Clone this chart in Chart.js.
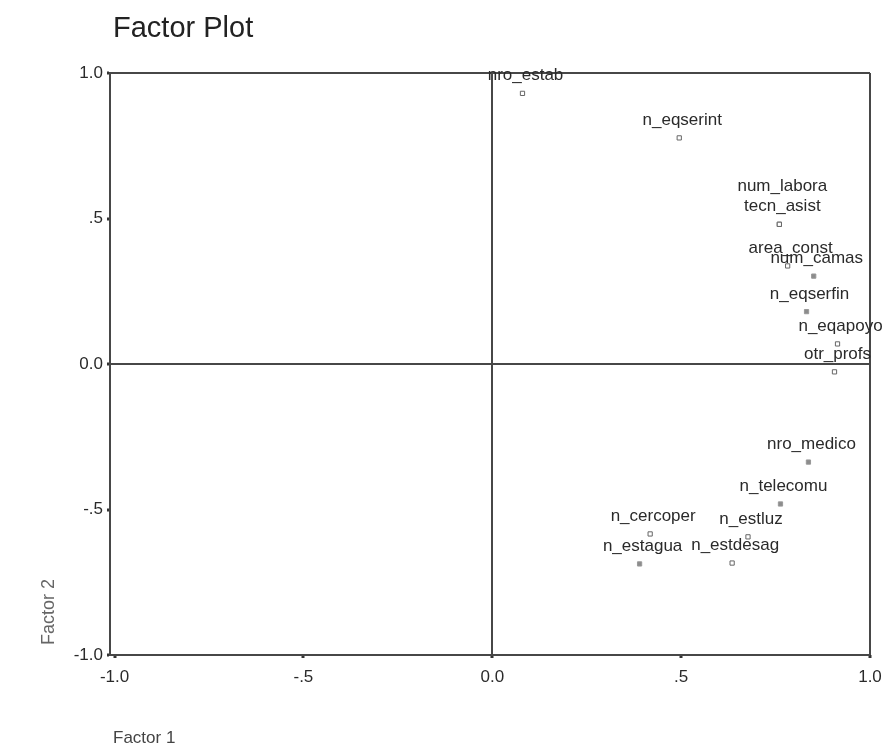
<!DOCTYPE html>
<html>
<head>
<meta charset="utf-8">
<script src="https://cdn.jsdelivr.net/npm/chart.js@4.4.1/dist/chart.umd.min.js"></script>
<style>
  body { margin: 0; background: #fff; }
</style>
</head>
<body>
<canvas id="myChart" width="888" height="747"></canvas>
<script>
const ctx = document.querySelector("#myChart")

// rotated component loadings
const variables = ["nro_estab", "n_eqserint", "tecn_asist", "num_labora", "area_const", "num_camas",
  "n_eqserfin", "n_eqapoyo", "otr_profs", "nro_medico", "n_telecomu", "n_cercoper",
  "n_estluz", "n_estdesag", "n_estagua"];
const factor1 = [0.08, 0.495, 0.76, 0.76, 0.782, 0.851, 0.832, 0.914, 0.906, 0.837, 0.763, 0.418, 0.677, 0.635, 0.39];
const factor2 = [0.93, 0.777, 0.48, 0.48, 0.337, 0.302, 0.18, 0.069, -0.027, -0.337, -0.481, -0.584, -0.594, -0.684, -0.687];
const tickValues = [-1, -0.5, 0, 0.5, 1];

// markers that print as solid grey dots
const solidMarks = ["num_camas", "n_eqserfin", "nro_medico", "n_telecomu", "n_estagua"];

const FONT = '"Liberation Sans", Arial, sans-serif';

// 1.0 / .5 / 0.0 / -.5 / -1.0
const fmt = v => {
  let s = Math.abs(v).toFixed(1);
  if (v !== 0 && s.startsWith('0.')) s = s.slice(1);
  return (v < 0 ? '-' : '') + s;
};

// only the zero line and the box edges are drawn
const xFrame = c => (c.tick.value === 0 || c.tick.value === 1) ? '#474747' : 'rgba(0,0,0,0)';
const yFrame = c => (c.tick.value === 0 || Math.abs(c.tick.value) === 1) ? '#474747' : 'rgba(0,0,0,0)';

const labelsPlugin = {
  id: 'labels',
  afterDatasetsDraw(chart) {
    const c = chart.ctx;
    const pts = chart.getDatasetMeta(0).data;
    c.save();
    c.font = '17px ' + FONT;
    c.fillStyle = '#2a2a2a';
    c.textAlign = 'center';
    c.textBaseline = 'alphabetic';
    pts.forEach((pt, i) => {
      // labels of coincident points get stacked upwards
      let n = 0;
      for (let j = 0; j < i; j++) {
        if (Math.abs(pts[j].x - pt.x) < 3 && Math.abs(pts[j].y - pt.y) < 3) n++;
      }
      c.fillText(variables[i], pt.x + 3, pt.y - 13 - n * 20);
    });
    c.restore();
  },
  afterDraw(chart) {
    const c = chart.ctx;
    c.save();
    c.fillStyle = '#222';
    c.font = '29px ' + FONT;
    c.textAlign = 'left';
    c.textBaseline = 'alphabetic';
    c.fillText('Factor Plot', 113, 37);

    c.fillStyle = '#444';
    c.font = '17px ' + FONT;
    c.fillText('Factor 1', 113, 743);

    c.fillStyle = '#666';
    c.translate(54, 612);
    c.rotate(-Math.PI / 2);
    c.textAlign = 'center';
    c.font = '18px ' + FONT;
    c.fillText('Factor 2', 0, 0);
    c.restore();
  }
};

const data = {
  datasets: [{
    label: 'Loadings',
    data: factor1.map((x, i) => ({x: x, y: factor2[i]})),
    pointStyle: 'rect',
    pointRadius: 3,
    pointBorderWidth: 1,
    pointBorderColor: variables.map(v => solidMarks.includes(v) ? '#999' : '#666'),
    pointBackgroundColor: variables.map(v => solidMarks.includes(v) ? '#8c8c8c' : '#fff'),
  }]
};

const config = {
  type: 'scatter',
  data: data,
  options: {
    responsive: false,
    animation: false,
    layout: {padding: {top: 73, right: 18, left: 0, bottom: 0}},
    plugins: {
      legend: {display: false},
      tooltip: {enabled: false}
    },
    scales: {
      x: {
        min: -1.012, max: 1,
        afterBuildTicks: s => { s.ticks = tickValues.map(v => ({value: v})); },
        afterFit: s => { s.height = 92; s.paddingLeft = 0; s.paddingRight = 0; },
        border: {display: false},
        grid: {color: xFrame, lineWidth: 2, tickColor: '#333', tickLength: 3, tickWidth: 3},
        ticks: {callback: fmt, color: '#2a2a2a', padding: 9, font: {family: FONT, size: 17}, maxRotation: 0}
      },
      y: {
        min: -1, max: 1,
        afterBuildTicks: s => { s.ticks = tickValues.map(v => ({value: v})); },
        afterFit: s => { s.width = 110; s.paddingTop = 0; s.paddingBottom = 0; },
        border: {display: true, color: '#474747', width: 2},
        grid: {color: yFrame, lineWidth: 2, tickColor: '#333', tickLength: 3, tickWidth: 3},
        ticks: {callback: fmt, color: '#2a2a2a', padding: 4, font: {family: FONT, size: 17}}
      }
    }
  },
  plugins: [labelsPlugin]
};

new Chart(ctx, config)
</script>
</body>
</html>
